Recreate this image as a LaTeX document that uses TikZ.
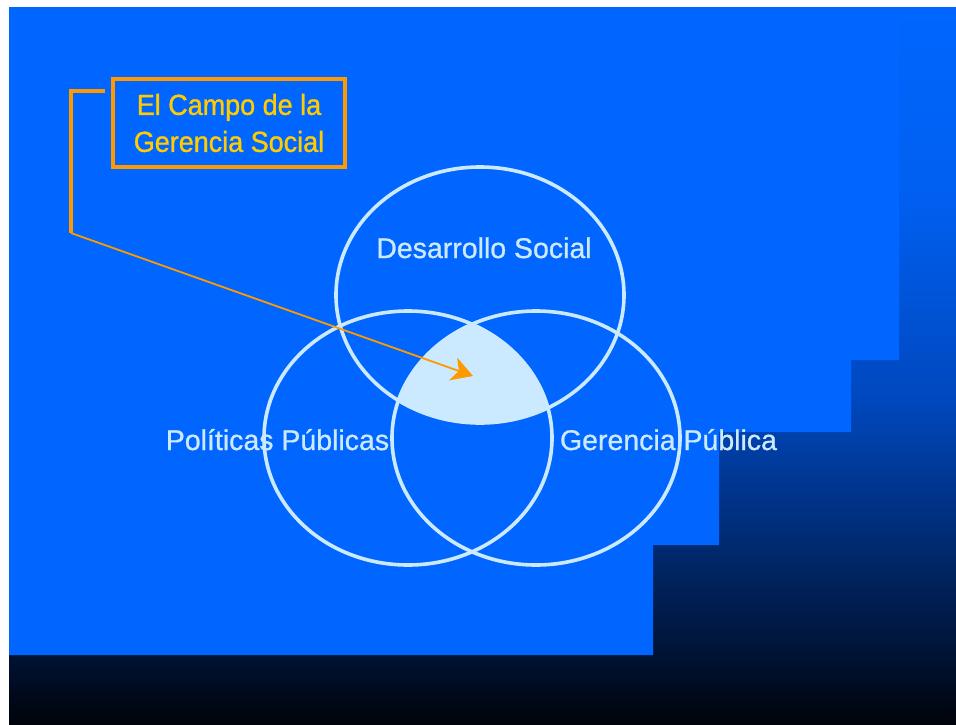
\documentclass[tikz,border=0pt]{standalone}
\usepackage{fontspec}
\setmainfont{Liberation Sans}
\newfontfamily\lblfont[FakeBold=0.8]{Liberation Sans}
\newfontfamily\boxfont[FakeBold=1.0,FakeStretch=0.93]{Liberation Sans}
\usetikzlibrary{arrows.meta}
\definecolor{bgblue}{RGB}{0,102,255}
\definecolor{lightc}{RGB}{204,234,255}
\definecolor{orangec}{RGB}{255,153,0}
\definecolor{goldc}{RGB}{255,204,0}
\pgfdeclareverticalshading{bgshade}{100bp}{%
  rgb(0bp)=(0,0.012,0.04);
  rgb(25bp)=(0,0.012,0.04);
  rgb(30.2bp)=(0,0.078,0.215);
  rgb(38.5bp)=(0,0.176,0.47);
  rgb(47.6bp)=(0,0.282,0.745);
  rgb(61.5bp)=(0,0.373,0.94);
  rgb(75bp)=(0,0.4,1);
  rgb(100bp)=(0,0.4,1)}
\tikzset{
  venn/.style={draw=lightc, line width=3.6pt},
  lbl/.style={text=lightc, font=\lblfont\fontsize{28.5}{34}\selectfont, anchor=base, inner sep=0pt},
  callbox/.style={draw=orangec, line width=3.5pt, minimum width=232pt, minimum height=88pt,
    inner sep=0pt, text=goldc, align=center, font=\boxfont\fontsize{29}{37}\selectfont},
  callline/.style={draw=orangec, line width=3.5pt},
  callarrow/.style={draw=orangec, line width=1.8pt, -{Stealth[length=21pt,width=24pt,inset=6pt]}}
}
\begin{document}
\begin{tikzpicture}[x=1pt,y=-1pt]
\useasboundingbox (0,0) rectangle (956,724);
\fill[white] (0,0) rectangle (956,724);
\shade[shading=bgshade] (9,7) rectangle (956,724);
\fill[bgblue] (9,7) -- (899,7) -- (899,360) -- (851,360) -- (851,432) -- (719,432)
  -- (719,545) -- (653,545) -- (653,655) -- (9,655) -- cycle;
% Venn ellipses
\draw[venn] (480,295) ellipse [x radius=144, y radius=128];
\draw[venn] (408,438) ellipse [x radius=144, y radius=127];
\draw[venn] (536,438) ellipse [x radius=144, y radius=127];
% intersection fill
\begin{scope}
  \clip (480,295) ellipse [x radius=144, y radius=128];
  \clip (408,438) ellipse [x radius=144, y radius=127];
  \fill[lightc] (536,438) ellipse [x radius=144, y radius=127];
\end{scope}
% labels
\node[lbl] (ds) at (484,258) {Desarrollo Social};
\node[lbl] (pp) at (277.5,450) {Políticas Públicas};
\node[lbl] (gp) at (668.5,450) {Gerencia Pública};
% callout
\node[callbox] (box) at (229,123) {El Campo de la\\Gerencia Social};
\coordinate (c1) at (105,91);
\coordinate (c2) at (71,91);
\coordinate (c3) at (71,233);
\coordinate (tip) at (473,376);
\draw[callline] (c1) -- (c2) -- (c3);
\draw[callarrow] (c3) -- (tip);
\end{tikzpicture}
\end{document}
